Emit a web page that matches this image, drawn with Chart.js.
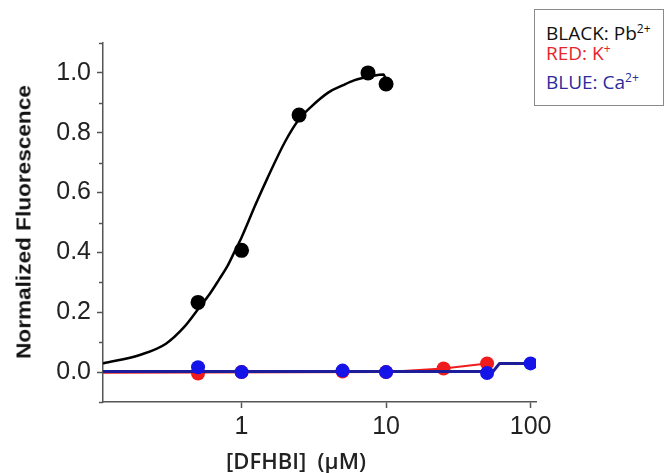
<!DOCTYPE html>
<html>
<head>
<meta charset="utf-8">
<script src="https://cdn.jsdelivr.net/npm/chart.js@4"></script>
<style>
  html, body { margin: 0; padding: 0; background: #fff; }
  #wrap { position: relative; width: 664px; height: 473px; overflow: hidden; }
  #chart { position: absolute; left: 0; top: 0; }
  .ytitle {
    position: absolute; left: 24px; top: 222px;
    transform: translate(-50%, -50%) rotate(-90deg) scaleX(1.13);
    font: bold 20px "Liberation Sans", Arial, sans-serif;
    color: #111; white-space: nowrap;
  }
  .xtitle {
    position: absolute; left: 296px; top: 460px;
    transform: translate(-50%, -50%);
    font: 600 22px "Open Sans", sans-serif;
    color: #222; white-space: pre;
  }
  .key {
    position: absolute; left: 534px; top: 9px; width: 128px; height: 95px;
    border: 1px solid #8a8a8a; background: #fff;
    font: 19px "Open Sans", sans-serif;
  }
  .key div { position: absolute; left: 11px; white-space: nowrap; line-height: 1; }
  .key sup { font-size: 12px; vertical-align: 7px; line-height: 0; }
</style>
</head>
<body>
<div id="wrap">
  <canvas id="chart" width="664" height="473"></canvas>
  <div class="ytitle">Normalized Fluorescence</div>
  <div class="xtitle">[DFHBI]  (μM)</div>
  <div class="key">
    <div style="top:14px; color:#111;">BLACK: Pb<sup>2+</sup></div>
    <div style="top:34px; color:#e8232a;">RED: K<sup>+</sup></div>
    <div style="top:63px; color:#2b2b9c;">BLUE: Ca<sup>2+</sup></div>
  </div>
</div>
<script>
// Pb2+ measurements and fitted binding curve
const blackX = [0.5, 1, 2.5, 7.5, 10];
const blackY = [0.233, 0.407, 0.859, 1.0, 0.963];
const fitX = [0.11, 0.2, 0.3, 0.4, 0.5, 0.6, 0.7, 0.8, 0.9, 1, 1.25, 1.5, 2, 2.5, 3, 4, 5, 6, 7, 8, 9, 9.6, 10];
const fitY = [0.029, 0.058, 0.095, 0.15, 0.21, 0.26, 0.31, 0.355, 0.405, 0.45, 0.56, 0.645, 0.77, 0.845, 0.885, 0.935, 0.958, 0.975, 0.984, 0.99, 0.994, 0.995, 0.975];

// K+ measurements and trace
const redX = [0.5, 1, 5, 10, 25, 50];
const redY = [-0.005, 0, 0.002, 0, 0.012, 0.029];
const redLineX = [0.11, 10, 25, 50];
const redLineY = [-0.002, 0, 0.012, 0.029];

// Ca2+ measurements and trace
const blueX = [0.5, 1, 5, 10, 50, 100];
const blueY = [0.016, 0, 0.005, 0, -0.003, 0.029];
const blueLineX = [0.11, 55, 61, 100];
const blueLineY = [0.002, 0.002, 0.029, 0.029];

// axis ticks
const xTicks = [1, 10, 100];
const yTicks = [-0.1, 0, 0.1, 0.2, 0.3, 0.4, 0.5, 0.6, 0.7, 0.8, 0.9, 1.0, 1.1];
const yLabels = [0, 0.2, 0.4, 0.6, 0.8, 1.0];

const pts = (xs, ys) => xs.map((x, i) => ({ x: x, y: ys[i] }));
const isMajor = (v) => yLabels.some(m => Math.abs(m - v) < 1e-6);

const axisColor = '#555';
const tickFont = { family: '"Liberation Sans", Arial, sans-serif', size: 25 };

// shorter ticks between the labelled values on the y axis
const minorTicks = {
    id: 'minorTicks',
    afterDraw(chart) {
        const y = chart.scales.y;
        const ctx = chart.ctx;
        ctx.save();
        ctx.strokeStyle = axisColor;
        ctx.lineWidth = 1.5;
        yTicks.filter(v => !isMajor(v)).forEach(v => {
            const py = Math.round(y.getPixelForValue(v)) + 0.5;
            ctx.beginPath();
            ctx.moveTo(y.right - 4, py);
            ctx.lineTo(y.right, py);
            ctx.stroke();
        });
        ctx.restore();
    }
};

new Chart(document.getElementById('chart'), {
    type: 'scatter',
    data: {
        datasets: [
            { data: pts(blueX, blueY), backgroundColor: '#1414e8', pointRadius: 7, borderWidth: 0, order: 1 },
            { data: pts(blueLineX, blueLineY), showLine: true, borderColor: '#1d1d9a', borderWidth: 3, pointRadius: 0, order: 2 },
            { data: pts(redX, redY), backgroundColor: '#f01c1c', pointRadius: 7, borderWidth: 0, order: 3 },
            { data: pts(redLineX, redLineY), showLine: true, borderColor: '#f01c1c', borderWidth: 2, pointRadius: 0, order: 4 },
            { data: pts(blackX, blackY), backgroundColor: '#000', pointRadius: 7.5, borderWidth: 0, order: 5 },
            { data: pts(fitX, fitY), showLine: true, cubicInterpolationMode: 'monotone', borderColor: '#000', borderWidth: 2.5, pointRadius: 0, order: 6 }
        ]
    },
    plugins: [minorTicks],
    options: {
        responsive: false,
        animation: false,
        layout: { padding: { top: 43, right: 128, bottom: 0, left: 0 } },
        plugins: { legend: { display: false }, tooltip: { enabled: false } },
        scales: {
            x: {
                type: 'logarithmic',
                min: 0.11,
                max: 109,
                afterBuildTicks: (scale) => { scale.ticks = xTicks.map(v => ({ value: v })); },
                afterFit: (scale) => { scale.height = 71; },
                ticks: {
                    font: tickFont, color: '#222', padding: 4,
                    autoSkip: false, maxRotation: 0,
                    callback: (v) => String(v)
                },
                grid: { drawOnChartArea: false, tickLength: 6, tickColor: axisColor, tickWidth: 1.5 },
                border: { color: axisColor, width: 1.5 }
            },
            y: {
                min: -0.1,
                max: 1.1,
                afterBuildTicks: (scale) => { scale.ticks = yTicks.map(v => ({ value: v })); },
                afterFit: (scale) => { scale.width = 103; },
                ticks: {
                    font: tickFont, color: '#222', padding: 6, autoSkip: false,
                    callback: (v) => isMajor(v) ? v.toFixed(1) : ''
                },
                grid: {
                    drawOnChartArea: false, tickLength: 6, tickWidth: 1.5,
                    tickColor: (c) => isMajor(c.tick.value) ? axisColor : 'rgba(0,0,0,0)'
                },
                border: { color: axisColor, width: 1.5 }
            }
        }
    }
});
</script>
</body>
</html>
